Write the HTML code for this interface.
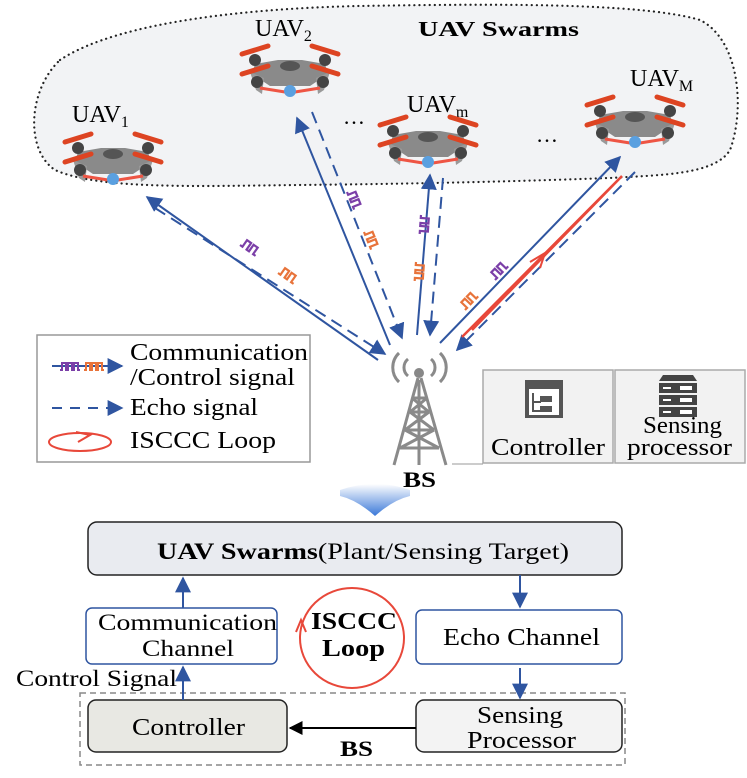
<!DOCTYPE html><html><head><meta charset="utf-8"><style>body{margin:0;background:#fff}svg{display:block}</style></head><body>
<svg width="747" height="778" viewBox="0 0 747 778" xmlns="http://www.w3.org/2000/svg" font-family="'Liberation Serif', 'DejaVu Serif', serif">
<defs>
<marker id="ab2" viewBox="0 0 10 10" refX="9" refY="5" markerWidth="16" markerHeight="16" orient="auto" markerUnits="userSpaceOnUse"><path d="M0,0L10,5L0,10z" fill="#2f55a0"/></marker>
<marker id="ak" viewBox="0 0 10 10" refX="9" refY="5" markerWidth="14" markerHeight="14" orient="auto" markerUnits="userSpaceOnUse"><path d="M0,0L10,5L0,10z" fill="#000"/></marker>
<linearGradient id="bg" x1="0" y1="0" x2="0" y2="1"><stop offset="0" stop-color="#fff"/><stop offset="1" stop-color="#3a78d8"/></linearGradient>
<g id="dr">
<path d="M-35,-8 L-12,-12 L12,-12 L35,-8 L38,2 L20,14 L-20,14 L-38,2Z" fill="#8a8a8a"/>
<ellipse cx="0" cy="-6" rx="10" ry="5" fill="#555"/>
<path d="M-40,0 L-34,18 L-28,22 L-26,6Z M40,0 L34,18 L28,22 L26,6Z" fill="#999"/>
<circle cx="-35" cy="-12" r="6" fill="#444"/><circle cx="35" cy="-12" r="6" fill="#444"/>
<circle cx="-33" cy="10" r="6" fill="#444"/><circle cx="33" cy="10" r="6" fill="#444"/>
<path d="M-48,-18 L-22,-26 M22,-26 L48,-18 M-48,2 L-22,-6 M22,-6 L48,2" stroke="#d42" stroke-width="5" stroke-linecap="round"/>
<path d="M-30,16 L-5,20 M30,16 L5,20" stroke="#e54" stroke-width="3"/>
<circle cx="0" cy="19" r="6" fill="#5aa0e0"/>
</g>
<path id="sq" d="M0,0 h3 v-8 h5 v8 h3 v-8 h5 v8 h3" fill="none" stroke-width="2.2"/>
</defs>
<!-- cloud -->
<path d="M60,60 C120,20 260,8 360,6 C480,4 640,2 700,20 C740,40 745,110 730,150 C715,175 660,175 610,178 C500,182 400,184 300,185 C200,186 100,190 55,170 C25,150 28,90 60,60Z" fill="#f2f3f5" stroke="#222" stroke-width="2.2" stroke-dasharray="0.1 5" stroke-linecap="round"/>
<text x="418" y="36" font-size="21" font-weight="bold" textLength="161" lengthAdjust="spacingAndGlyphs">UAV Swarms</text>
<text x="72" y="122" font-size="24">UAV<tspan font-size="16" dy="5">1</tspan></text>
<text x="255" y="36" font-size="24">UAV<tspan font-size="16" dy="5">2</tspan></text>
<text x="407" y="112" font-size="24">UAV<tspan font-size="16" dy="5">m</tspan></text>
<text x="630" y="86" font-size="24">UAV<tspan font-size="16" dy="5">M</tspan></text>
<text x="343" y="124" font-size="22">…</text><text x="536" y="142" font-size="22">…</text>
<use href="#dr" x="113" y="160"/><use href="#dr" x="290" y="72"/><use href="#dr" x="428" y="143"/><use href="#dr" x="635" y="123"/>
<!-- links -->
<g stroke="#2f55a0" stroke-width="2" fill="none">
<line x1="378" y1="360" x2="147" y2="197" marker-end="url(#ab2)"/>
<line x1="155" y1="208" x2="385" y2="354" stroke-dasharray="12 7" marker-end="url(#ab2)"/>
<line x1="390" y1="345" x2="297" y2="118" marker-end="url(#ab2)"/>
<line x1="312" y1="112" x2="402" y2="338" stroke-dasharray="12 7" marker-end="url(#ab2)"/>
<line x1="417" y1="335" x2="430" y2="175" marker-end="url(#ab2)"/>
<line x1="443" y1="178" x2="430" y2="335" stroke-dasharray="12 7" marker-end="url(#ab2)"/>
<line x1="440" y1="343" x2="620" y2="157" marker-end="url(#ab2)"/>
<line x1="635" y1="172" x2="457" y2="350" stroke-dasharray="12 7" marker-end="url(#ab2)"/>
</g>
<path d="M462,337 L622,176 L472,330" fill="none" stroke="#e8483a" stroke-width="2.5"/>
<path d="M530,262 L545,253 L540,268" fill="none" stroke="#e8483a" stroke-width="2"/>
<!-- signal glyphs -->
<g>
<use href="#sq" stroke="#7b3fa8" transform="translate(240,245) rotate(35)"/>
<use href="#sq" stroke="#e8733a" transform="translate(278,273) rotate(35)"/>
<use href="#sq" stroke="#7b3fa8" transform="translate(347,192) rotate(68)"/>
<use href="#sq" stroke="#e8733a" transform="translate(364,232) rotate(68)"/>
<use href="#sq" stroke="#7b3fa8" transform="translate(421,215) rotate(94)"/>
<use href="#sq" stroke="#e8733a" transform="translate(416,262) rotate(94)"/>
<use href="#sq" stroke="#7b3fa8" transform="translate(495,280) rotate(-46)"/>
<use href="#sq" stroke="#e8733a" transform="translate(465,310) rotate(-46)"/>
</g>
<!-- legend -->
<rect x="37" y="335" width="273" height="127" fill="#fff" stroke="#999" stroke-width="1.5"/>
<line x1="52" y1="366" x2="122" y2="366" stroke="#2f55a0" stroke-width="2" marker-end="url(#ab2)"/>
<g transform="translate(0,0)"><path d="M60,370 h2 v-7 h4 v7 h2 v-7 h4 v7 h2 v-7 h4 v7 h2" fill="none" stroke="#7b3fa8" stroke-width="2"/>
<path d="M84,370 h2 v-7 h4 v7 h2 v-7 h4 v7 h2 v-7 h4 v7 h2" fill="none" stroke="#e8733a" stroke-width="2"/></g>
<line x1="52" y1="408" x2="122" y2="408" stroke="#2f55a0" stroke-width="2" stroke-dasharray="10 8" marker-end="url(#ab2)"/>
<ellipse cx="80" cy="442" rx="31" ry="9" fill="none" stroke="#e8483a" stroke-width="2"/>
<path d="M76,432 L90,435 L78,442" fill="none" stroke="#e8483a" stroke-width="2"/>
<g font-size="24"><text x="130" y="360" textLength="178" lengthAdjust="spacingAndGlyphs">Communication</text><text x="130" y="385" textLength="165" lengthAdjust="spacingAndGlyphs">/Control signal</text><text x="130" y="415" textLength="128" lengthAdjust="spacingAndGlyphs">Echo signal</text><text x="130" y="448" textLength="146" lengthAdjust="spacingAndGlyphs">ISCCC Loop</text></g>
<!-- tower -->
<g stroke="#8a8a8a" fill="none" stroke-width="3">
<path d="M418,378 L394,465 M421,378 L446,465 M419,380 L419,465 M410,412 L429,412 M405,430 L434,430 M400,448 L439,448 M412,398 L427,398 M405,430 L429,412 M434,430 L410,412 M400,448 L434,430 M439,448 L405,430 M412,398 L429,412 M427,398 L410,412"/>
<path d="M408,376 a11,11 0 0 1 0,-17 M431,376 a11,11 0 0 0 0,-17 M399,382 a20,20 0 0 1 0,-29 M440,382 a20,20 0 0 0 0,-29"/>
</g>
<circle cx="419" cy="373" r="5" fill="#888"/>
<text x="403" y="487" font-size="22" font-weight="bold" textLength="33" lengthAdjust="spacingAndGlyphs">BS</text>
<!-- controller / sensing boxes -->
<line x1="452" y1="464" x2="483" y2="464" stroke="#999"/>
<rect x="483" y="370" width="130" height="93" fill="#f2f2f2" stroke="#aaa" stroke-width="1.5"/>
<rect x="615" y="370" width="130" height="93" fill="#f2f2f2" stroke="#aaa" stroke-width="1.5"/>
<rect x="525" y="380" width="38" height="38" fill="#555"/><rect x="529" y="389" width="30" height="26" fill="#fff"/>
<path d="M533,393 v18 h8 M533,402 h8" stroke="#555" stroke-width="2" fill="none"/><rect x="540" y="396" width="12" height="6" fill="#555"/><rect x="540" y="406" width="12" height="6" fill="#555"/>
<g fill="#444"><path d="M663,375 h30 l4,6 h-38z"/><rect x="659" y="383" width="38" height="10"/><rect x="659" y="395" width="38" height="10"/><rect x="659" y="407" width="38" height="10"/></g>
<g fill="#fff"><rect x="663" y="387" width="8" height="2"/><rect x="663" y="399" width="8" height="2"/><rect x="663" y="411" width="8" height="2"/><rect x="680" y="386" width="12" height="4"/><rect x="680" y="398" width="12" height="4"/><rect x="680" y="410" width="12" height="4"/></g>
<text x="491" y="455" font-size="24" textLength="114" lengthAdjust="spacingAndGlyphs">Controller</text>
<text x="643" y="433" font-size="24" textLength="79" lengthAdjust="spacingAndGlyphs">Sensing</text><text x="627" y="455" font-size="24" textLength="105" lengthAdjust="spacingAndGlyphs">processor</text>
<!-- big arrow -->
<path d="M340,490 Q375,478 410,490 L410,496 Q393,500 375,516 Q357,500 340,496Z" fill="url(#bg)"/>
<!-- bottom -->
<rect x="88" y="522" width="534" height="53" rx="9" fill="#e9ebf0" stroke="#222" stroke-width="1.5"/>
<text x="157" y="559" font-size="23" textLength="412" lengthAdjust="spacingAndGlyphs"><tspan font-weight="bold">UAV Swarms</tspan>(Plant/Sensing Target)</text>
<rect x="86" y="608" width="191" height="56" rx="6" fill="#fff" stroke="#2f55a0" stroke-width="1.5"/>
<text x="98" y="630" font-size="23" textLength="179" lengthAdjust="spacingAndGlyphs">Communication</text><text x="142" y="656" font-size="23" textLength="92" lengthAdjust="spacingAndGlyphs">Channel</text>
<rect x="416" y="610" width="206" height="54" rx="6" fill="#fff" stroke="#2f55a0" stroke-width="1.5"/>
<text x="443" y="645" font-size="24" textLength="157" lengthAdjust="spacingAndGlyphs">Echo Channel</text>
<ellipse cx="352" cy="638" rx="52" ry="50" fill="none" stroke="#e8483a" stroke-width="2"/>
<path d="M296,632 L301,620 L306,632" fill="none" stroke="#e8483a" stroke-width="2"/>
<text x="311" y="629" font-size="24" font-weight="bold" textLength="86" lengthAdjust="spacingAndGlyphs">ISCCC</text><text x="322" y="656" font-size="24" font-weight="bold" textLength="63" lengthAdjust="spacingAndGlyphs">Loop</text>
<text x="16" y="686" font-size="23" textLength="161" lengthAdjust="spacingAndGlyphs">Control Signal</text>
<rect x="80" y="693" width="545" height="72" fill="none" stroke="#888" stroke-width="1.5" stroke-dasharray="6 4"/>
<rect x="88" y="700" width="199" height="52" rx="8" fill="#e8e8e3" stroke="#222" stroke-width="1.5"/>
<text x="132" y="735" font-size="24" textLength="113" lengthAdjust="spacingAndGlyphs">Controller</text>
<rect x="416" y="700" width="206" height="52" rx="8" fill="#f3f3f3" stroke="#222" stroke-width="1.5"/>
<text x="477" y="723" font-size="24" textLength="86" lengthAdjust="spacingAndGlyphs">Sensing</text><text x="467" y="748" font-size="24" textLength="109" lengthAdjust="spacingAndGlyphs">Processor</text>
<line x1="416" y1="728" x2="290" y2="728" stroke="#000" stroke-width="2" marker-end="url(#ak)"/>
<text x="340" y="756" font-size="22" font-weight="bold" textLength="33" lengthAdjust="spacingAndGlyphs">BS</text>
<g stroke="#2f55a0" stroke-width="2">
<line x1="183" y1="608" x2="183" y2="578" marker-end="url(#ab2)"/>
<line x1="183" y1="700" x2="183" y2="667" marker-end="url(#ab2)"/>
<line x1="520" y1="575" x2="520" y2="607" marker-end="url(#ab2)"/>
<line x1="520" y1="668" x2="520" y2="698" marker-end="url(#ab2)"/>
</g>
</svg></body></html>
